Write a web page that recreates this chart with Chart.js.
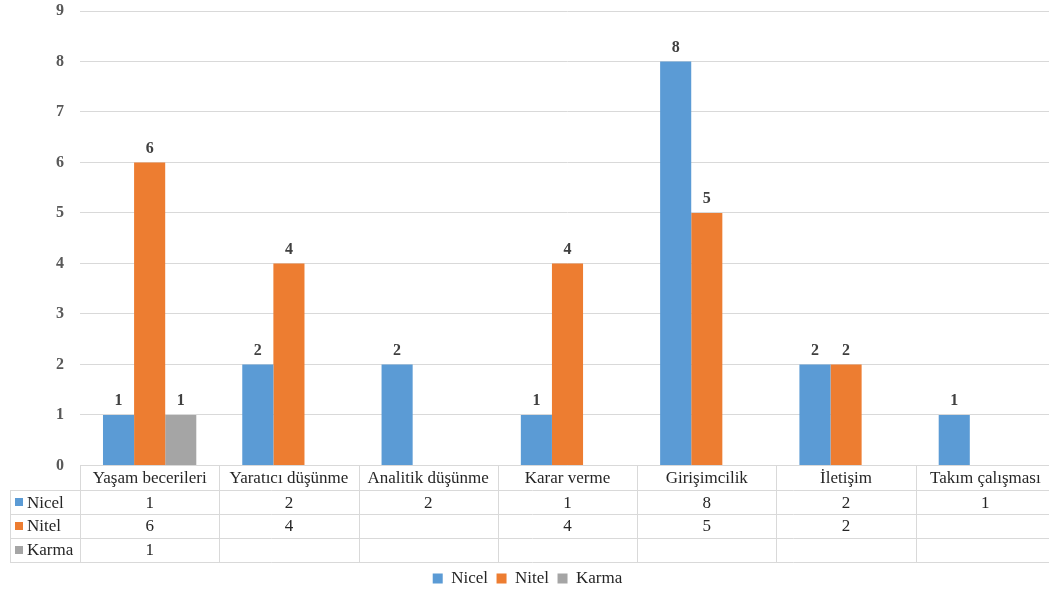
<!DOCTYPE html>
<html>
<head>
<meta charset="utf-8">
<script src="https://cdn.jsdelivr.net/npm/chart.js@4/dist/chart.umd.min.js"></script>
<style>
  html, body { margin: 0; padding: 0; background: #fff; overflow: hidden; width: 1049px; height: 597px; }
  canvas { display: block; }
</style>
</head>
<body>
<canvas id="c" width="1056" height="597"></canvas>
<script>
// Kategoriler ve seriler
const categories = ['Yaşam becerileri', 'Yaratıcı düşünme', 'Analitik düşünme', 'Karar verme', 'Girişimcilik', 'İletişim', 'Takım çalışması'];
const seriesNames = ['Nicel', 'Nitel', 'Karma'];
const nicel = [1, 2, 2, 1, 8, 2, 1];
const nitel = [6, 4, null, 4, 5, 2, null];
const karma = [1, null, null, null, null, null, null];
const seriesColors = ['#5B9BD5', '#ED7D31', '#A5A5A5'];
const yTicks = [0, 1, 2, 3, 4, 5, 6, 7, 8, 9];

const SERIF = '"Liberation Serif", "Times New Roman", serif';
const GRID = '#D9D9D9';
const TEXT = '#262626';

// Başlık satırı ve veri satırlarının yükseklikleri
const headerH = 25;
const rowH = 23.7;
const tableH = headerH + rowH * 3;
const tableLeft = 10;

// Çubukların üstüne değer yazan eklenti
const valueLabels = {
  id: 'valueLabels',
  afterDatasetsDraw(chart) {
    const ctx = chart.ctx;
    ctx.save();
    ctx.font = 'bold 16px ' + SERIF;
    ctx.fillStyle = '#404040';
    ctx.textAlign = 'center';
    ctx.textBaseline = 'bottom';
    chart.data.datasets.forEach((ds, di) => {
      const meta = chart.getDatasetMeta(di);
      meta.data.forEach((bar, i) => {
        const v = ds.data[i];
        if (v === null || v === undefined) return;
        ctx.fillText(String(v), bar.x, bar.y - 6);
      });
    });
    ctx.restore();
  }
};

// Eksen altındaki veri tablosu
const dataTable = {
  id: 'dataTable',
  afterDraw(chart) {
    const ctx = chart.ctx;
    const area = chart.chartArea;
    const x = chart.scales.x;
    const n = categories.length;
    const cw = (area.right - area.left) / n;
    const top = area.bottom;
    const rowTops = [top, top + headerH, top + headerH + rowH, top + headerH + rowH * 2, top + tableH];

    ctx.save();
    ctx.strokeStyle = GRID;
    ctx.lineWidth = 1;
    ctx.beginPath();
    // yatay çizgiler
    ctx.moveTo(area.left, Math.round(rowTops[0]) + 0.5);
    ctx.lineTo(area.right, Math.round(rowTops[0]) + 0.5);
    for (let r = 1; r < rowTops.length; r++) {
      const y = Math.round(rowTops[r]) + 0.5;
      ctx.moveTo(tableLeft, y);
      ctx.lineTo(area.right, y);
    }
    // dikey çizgiler
    ctx.moveTo(tableLeft + 0.5, Math.round(rowTops[1]));
    ctx.lineTo(tableLeft + 0.5, Math.round(rowTops[4]) + 1);
    for (let i = 0; i < n; i++) {
      const xx = Math.round(x.getPixelForValue(i) - cw / 2) + 0.5;
      ctx.moveTo(xx, Math.round(rowTops[0]));
      ctx.lineTo(xx, Math.round(rowTops[4]) + 1);
    }
    ctx.stroke();

    ctx.font = '17px ' + SERIF;
    ctx.fillStyle = TEXT;
    ctx.textAlign = 'center';
    ctx.textBaseline = 'middle';
    categories.forEach((c, i) => {
      ctx.fillText(c, x.getPixelForValue(i), (rowTops[0] + rowTops[1]) / 2 + 1);
    });
    const rows = [nicel, nitel, karma];
    rows.forEach((vals, r) => {
      const yc = (rowTops[r + 1] + rowTops[r + 2]) / 2 + 1;
      vals.forEach((v, i) => {
        if (v === null || v === undefined) return;
        ctx.fillText(String(v), x.getPixelForValue(i), yc);
      });
      // satır başlığı: renk kutusu + seri adı
      ctx.fillStyle = seriesColors[r];
      ctx.fillRect(15, Math.round(yc - 5), 8, 8);
      ctx.fillStyle = TEXT;
      ctx.textAlign = 'left';
      ctx.fillText(seriesNames[r], 27, yc);
      ctx.textAlign = 'center';
    });
    ctx.restore();
  }
};

new Chart(document.getElementById('c'), {
  type: 'bar',
  data: {
    labels: categories,
    datasets: [
      { label: seriesNames[0], data: nicel, backgroundColor: seriesColors[0] },
      { label: seriesNames[1], data: nitel, backgroundColor: seriesColors[1] },
      { label: seriesNames[2], data: karma, backgroundColor: seriesColors[2] }
    ]
  },
  options: {
    responsive: false,
    animation: false,
    devicePixelRatio: 1,
    layout: { padding: { top: 0, right: 1, left: 0, bottom: 0 } },
    datasets: { bar: { categoryPercentage: 0.67, barPercentage: 1.0 } },
    scales: {
      x: {
        grid: { display: false },
        border: { display: false },
        ticks: { display: false },
        afterFit(scale) { scale.height = tableH; }
      },
      y: {
        min: 0,
        max: 9,
        afterBuildTicks(scale) { scale.ticks = yTicks.map(v => ({ value: v })); },
        afterFit(scale) {
          scale.width = 80;
          scale.paddingTop = 11;
          scale.paddingBottom = 0;
        },
        grid: { color: GRID, drawTicks: false },
        border: { display: false },
        ticks: {
          padding: 16,
          color: '#595959',
          font: { family: SERIF, size: 16, weight: 'bold' }
        }
      }
    },
    plugins: {
      tooltip: { enabled: false },
      legend: {
        position: 'bottom',
        labels: {
          boxWidth: 10,
          boxHeight: 10,
          padding: 8.5,
          color: TEXT,
          font: { family: SERIF, size: 17 }
        }
      }
    }
  },
  plugins: [valueLabels, dataTable]
});
</script>
</body>
</html>
